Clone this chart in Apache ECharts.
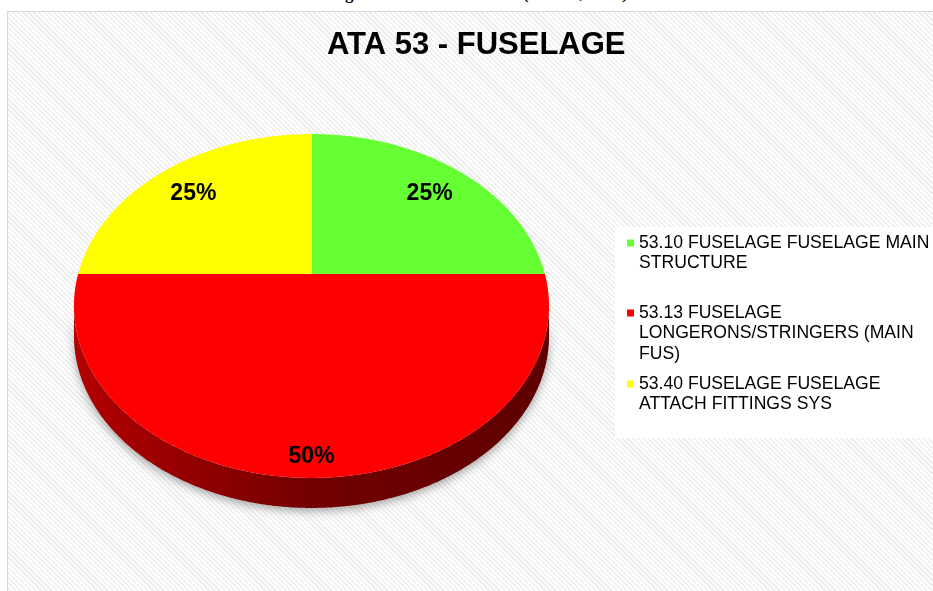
<!DOCTYPE html>
<html>
<head>
<meta charset="utf-8">
<title>ATA 53 - FUSELAGE</title>
<script src="https://cdn.jsdelivr.net/npm/echarts@6/dist/echarts.min.js"></script>
<style>
html, body { margin: 0; padding: 0; width: 933px; height: 591px; overflow: hidden; background: #fff; }
#caption { position: absolute; left: 0; width: 962px; top: -16px; text-align: center; font: bold 17px "Liberation Serif", serif; color: #000; white-space: nowrap; }
#frame { position: absolute; left: 7px; top: 11px; width: 940px; height: 600px; border: 1px solid #d9d9d9;
  background: repeating-linear-gradient(45deg, #ffffff 0px, #ffffff 2px, #eeeeee 2px, #eeeeee 3.6px); }
#chart { position: absolute; left: 0; top: 0; width: 933px; height: 591px; }
</style>
</head>
<body>
<div id="caption">Figura 5 - Gráfico ATA 53 (AMOS, 2016).</div>
<div id="frame"></div>
<div id="chart"></div>
<script>
// data
const categories = [
    '53.10 FUSELAGE FUSELAGE MAIN STRUCTURE',
    '53.13 FUSELAGE LONGERONS/STRINGERS (MAIN FUS)',
    '53.40 FUSELAGE FUSELAGE ATTACH FITTINGS SYS'
]
const values = [25, 50, 25]
const colors = ['#66ff33', '#ff0000', '#ffff00']

const total = values.reduce((a, b) => a + b, 0)

/* tilted pie geometry ------------------------------ */
const CX = 311.5, CY = 274, RX = 233.4, RY = 166, TILT = -0.186, DEPTH = 30
const LABEL_R = [0.79, 0.9, 0.79]
const LABEL_DY = 3.5
// legend: first line centre of each item
const LEGEND_Y = [243, 313, 384]
const LH = 20.5
const LEGEND_W = 296
const FONT = '"Liberation Sans", Arial, sans-serif'
const LEGEND_FONT = '17.6px "Liberation Sans", Arial, sans-serif'

// angle from 12 o'clock clockwise, r in 0..1
const pt = (a, r) => {
    const u = r * Math.sin(a), v = -r * Math.cos(a)
    const d = 1 + TILT * v
    return [CX + RX * u / d, CY + RY * v / d]
}
const arc = (a0, a1, dy) => {
    const n = Math.max(2, Math.ceil((a1 - a0) / 0.01))
    const out = []
    for (let i = 0; i <= n; i++) {
        const p = pt(a0 + (a1 - a0) * i / n, 1)
        out.push([p[0], p[1] + dy])
    }
    return out
}
const shade = (hex, f) => {
    const n = parseInt(hex.slice(1), 16)
    const c = [(n >> 16) & 255, (n >> 8) & 255, n & 255].map(x => Math.round(x * f))
    return 'rgb(' + c.join(',') + ')'
}

// word wrap on spaces only (like the original legend)
const ctx = document.createElement('canvas').getContext('2d')
ctx.font = LEGEND_FONT
const wrap = text => {
    const lines = []
    let cur = ''
    text.split(' ').forEach(w => {
        const t = cur ? cur + ' ' + w : w
        if (cur && ctx.measureText(t).width > LEGEND_W) {
            lines.push(cur)
            cur = w
        } else cur = t
    })
    lines.push(cur)
    return lines
}
const legendLines = categories.map(wrap)

const makeRender = idx => (params, api) => {
    const val = api.value(0)
    let before = 0
    for (let i = 0; i < idx; i++) before += values[i]
    const a0 = before / total * 2 * Math.PI
    const a1 = (before + val) / total * 2 * Math.PI
    const color = colors[idx]
    const children = []
    // visible side wall (front part only)
    const s0 = Math.max(a0, Math.acos(TILT))
    const s1 = Math.min(a1, 2 * Math.PI - Math.acos(TILT))
    if (s1 > s0) {
        const pts = arc(s0, s1, 0).concat(arc(s0, s1, DEPTH).reverse())
        children.push({
            type: 'polygon',
            shape: { points: pts },
            style: {
                fill: new echarts.graphic.LinearGradient(0, 0, 1, 0, [
                    { offset: 0, color: shade(color, 0.7) },
                    { offset: 0.5, color: shade(color, 0.45) },
                    { offset: 1, color: shade(color, 0.37) }
                ]),
                shadowBlur: 10,
                shadowColor: 'rgba(0,0,0,0.35)',
                shadowOffsetY: 3
            }
        })
    }
    // top face
    children.push({
        type: 'polygon',
        shape: { points: [[CX, CY]].concat(arc(a0, a1, 0)) },
        style: { fill: color }
    })
    const m = pt((a0 + a1) / 2, LABEL_R[idx])
    children.push({
        type: 'text',
        x: m[0],
        y: m[1] + LABEL_DY,
        style: {
            text: Math.round(val / total * 100) + '%',
            align: 'center',
            verticalAlign: 'middle',
            fontFamily: FONT,
            fontSize: 23,
            fontWeight: 'bold',
            fill: '#000'
        }
    })
    return { type: 'group', children }
}

const chart = echarts.init(document.getElementById('chart'))
chart.setOption({
    backgroundColor: 'transparent',
    animation: false,
    title: {
        text: 'ATA 53 - FUSELAGE',
        left: 327,
        top: 30,
        padding: 0,
        textStyle: { fontFamily: FONT, fontSize: 31, fontWeight: 'bold', color: '#000' }
    },
    graphic: [
        { type: 'rect', shape: { x: 615, y: 227, width: 330, height: 211 }, style: { fill: '#fff' }, z: 0, silent: true }
    ],
    legend: categories.map((name, i) => {
        const n = legendLines[i].length
        // icon box stretched downwards so the square sits on the first text line
        const h = 7 + (n - 1) * LH
        return {
            data: [name],
            orient: 'vertical',
            left: 627,
            top: LEGEND_Y[i] - LH / 2,
            padding: 0,
            itemWidth: 7,
            itemHeight: h,
            icon: 'path://M0,0h7v7h-7z M0,' + h,
            selectedMode: false,
            formatter: () => legendLines[i].join('\n'),
            textStyle: { fontFamily: FONT, fontSize: 17.6, color: '#000', lineHeight: LH }
        }
    }),
    series: categories.map((name, i) => ({
        type: 'custom',
        name: name,
        coordinateSystem: 'none',
        silent: true,
        z: 2,
        itemStyle: { color: colors[i] },
        data: [values[i]],
        renderItem: makeRender(i)
    }))
})
</script>
</body>
</html>
